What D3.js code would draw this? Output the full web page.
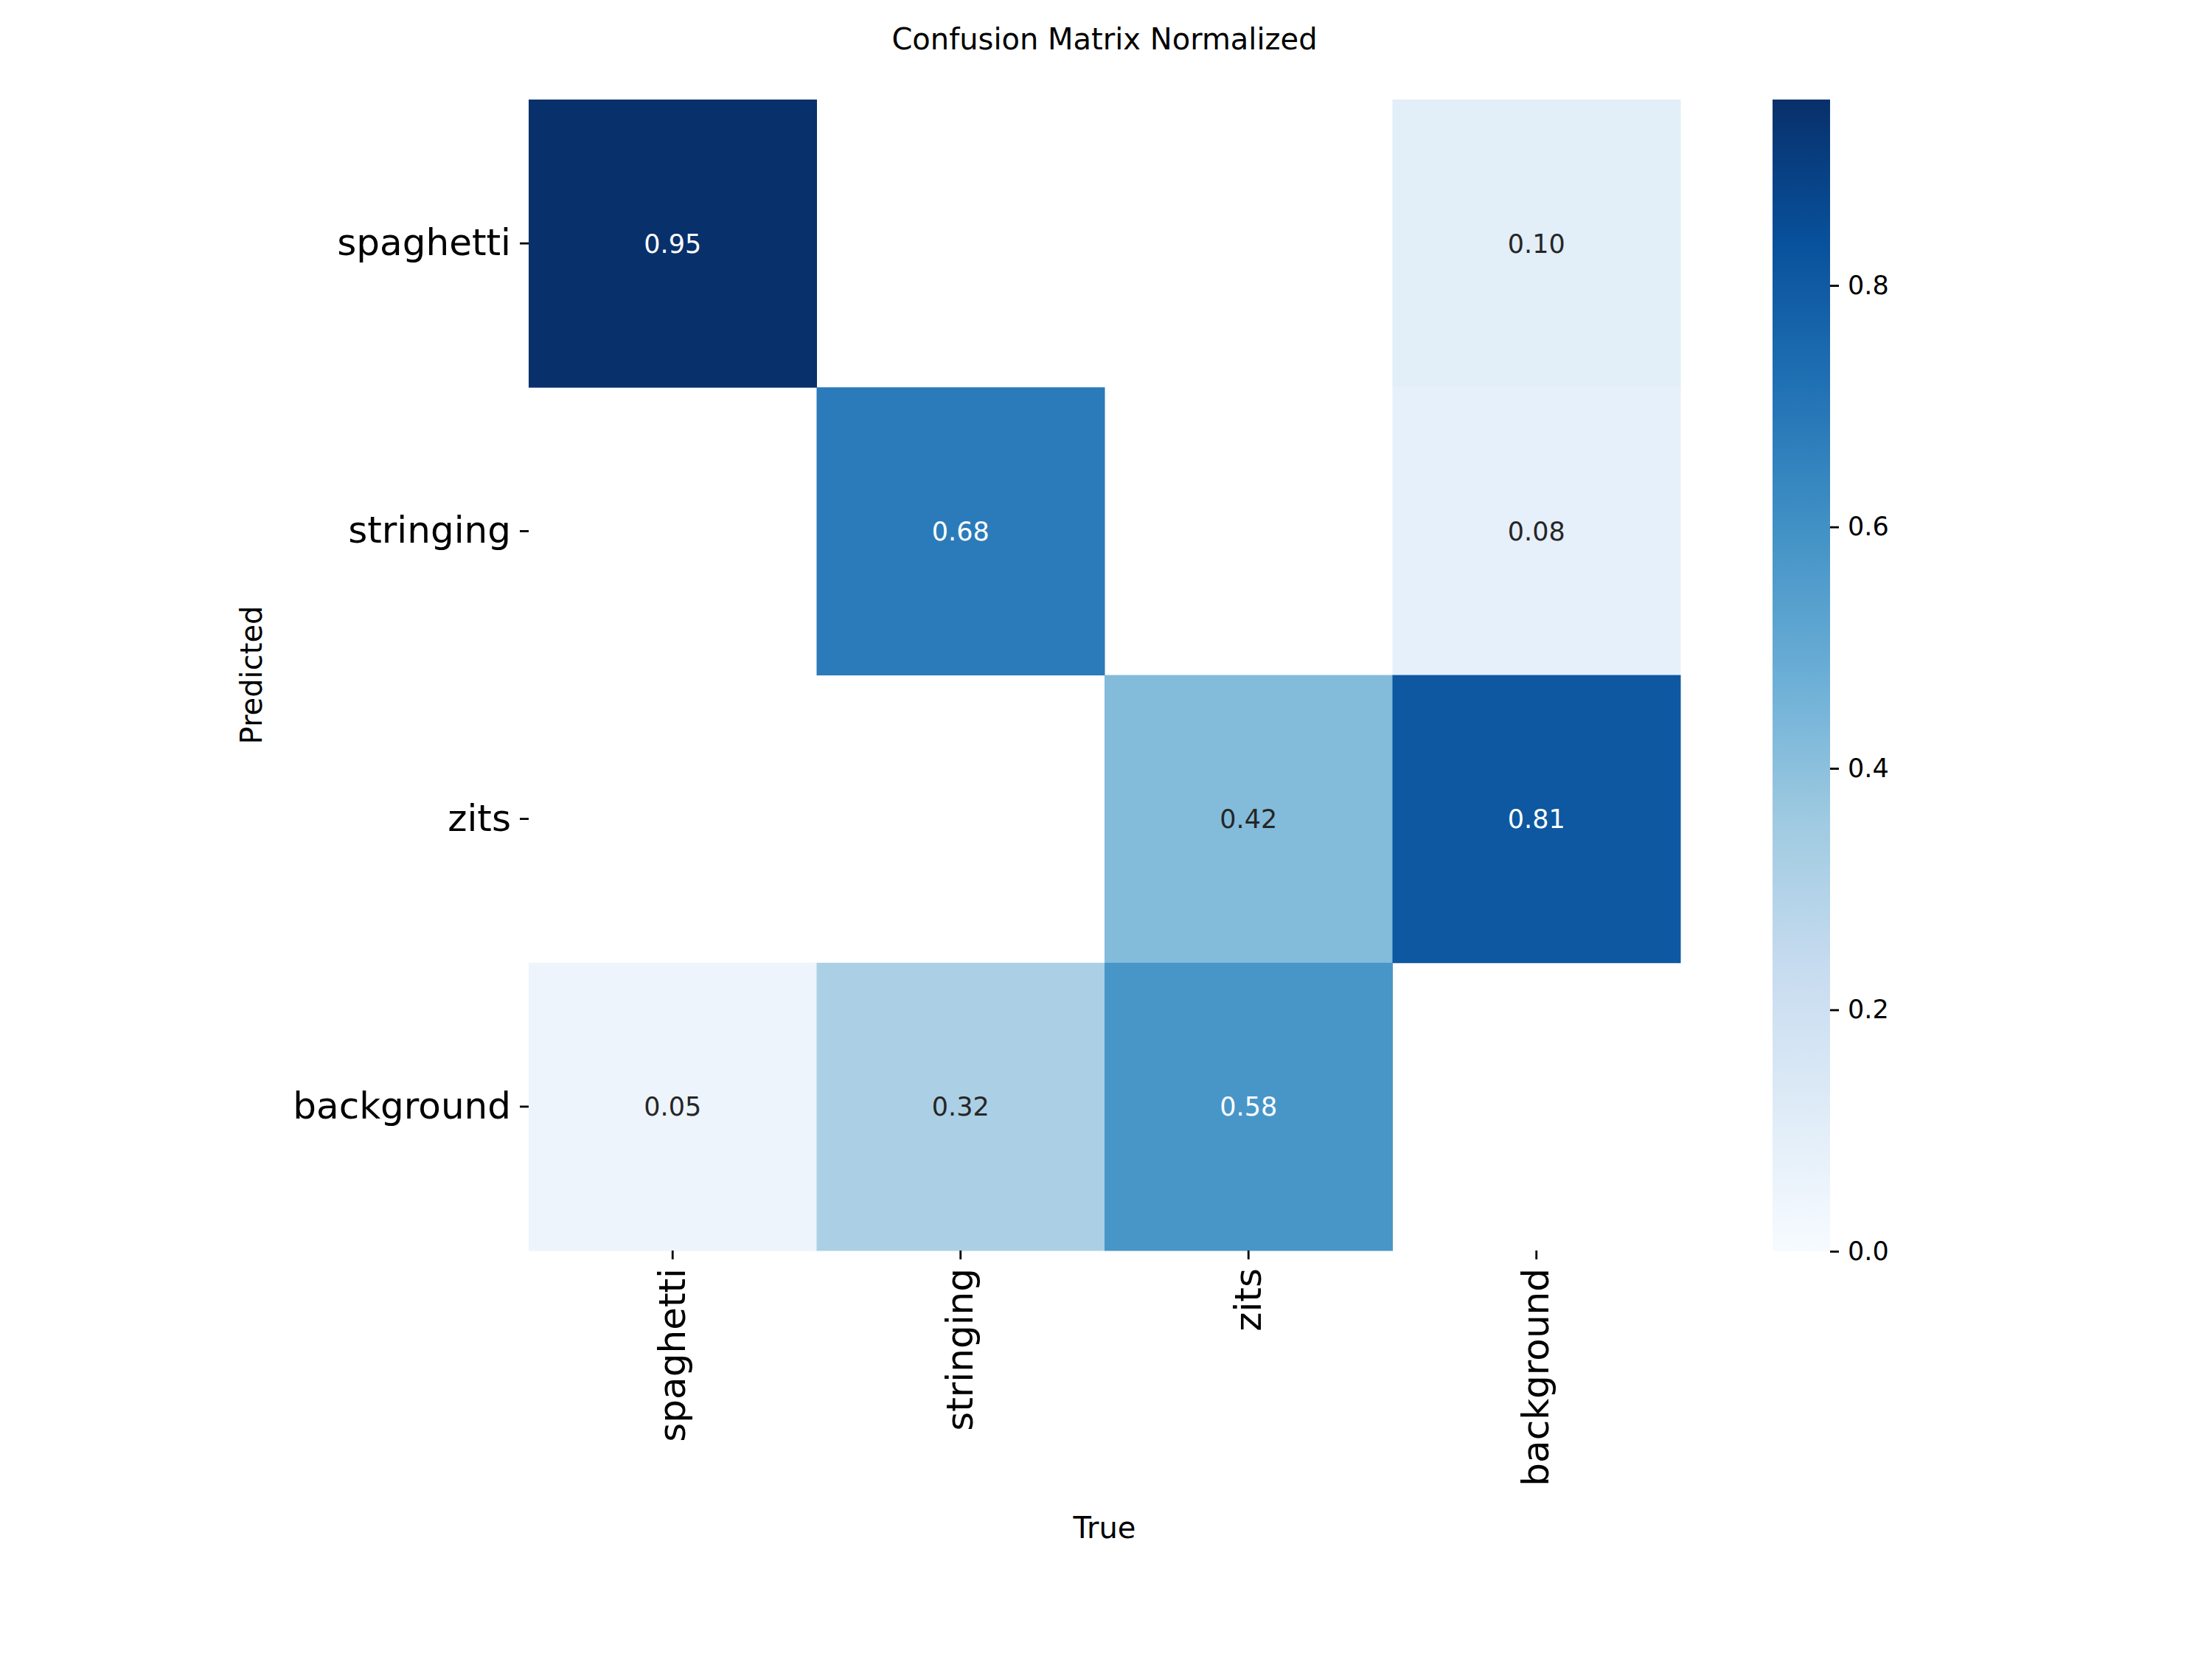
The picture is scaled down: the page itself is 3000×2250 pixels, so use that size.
<!DOCTYPE html>
<html>
<head>
<meta charset="utf-8">
<script src="https://cdn.jsdelivr.net/npm/d3@7"></script>
<style>
  body { margin: 0; background: #fff; }
  svg { display: block; font-family: "DejaVu Sans", sans-serif; }
</style>
</head>
<body>
<svg width="3000" height="2250"></svg>
<script>
// categories, true on x, predicted on y
const trueLabels = ['spaghetti', 'stringing', 'zits', 'background'];
const predLabels = ['spaghetti', 'stringing', 'zits', 'background'];

// normalized values per predicted row (null = empty cell)
const rowSpaghetti = [0.954, null, null, 0.10];
const rowStringing = [null, 0.68, null, 0.08];
const rowZits = [null, null, 0.42, 0.81];
const rowBackground = [0.05, 0.32, 0.58, null];
const matrix = [rowSpaghetti, rowStringing, rowZits, rowBackground];

const cbarTicks = [0.0, 0.2, 0.4, 0.6, 0.8];

// matplotlib "Blues"
const blues = ['#f7fbff', '#deebf7', '#c6dbef', '#9ecae1', '#6baed6', '#4292c6', '#2171b5', '#08519c', '#08306b'];

const svg = d3.select('svg');

let plotLeft = 717, plotRight = 2279, plotTop = 135, plotBottom = 1696;
let vmax = d3.max(matrix.flat());

let x = d3.scaleBand().domain(trueLabels).range([plotLeft, plotRight]);
let y = d3.scaleBand().domain(predLabels).range([plotTop, plotBottom]);
let color = d3.scaleLinear()
  .domain(d3.range(blues.length).map(i => i / (blues.length - 1) * vmax))
  .range(blues)
  .clamp(true);

let cells = [];
matrix.forEach((row, i) => {
  row.forEach((v, j) => {
    if (v !== null) cells.push({ pred: predLabels[i], tru: trueLabels[j], v: v });
  });
});

// cells
svg.append('g').selectAll('rect')
  .data(cells)
  .join('rect')
  .attr('x', d => x(d.tru))
  .attr('y', d => y(d.pred))
  .attr('width', x.bandwidth() + 0.5)
  .attr('height', y.bandwidth() + 0.5)
  .attr('fill', d => color(d.v));

// annotations, white on dark cells like seaborn
svg.append('g').selectAll('text')
  .data(cells)
  .join('text')
  .attr('x', d => x(d.tru) + x.bandwidth() / 2)
  .attr('y', d => y(d.pred) + y.bandwidth() / 2)
  .attr('dy', '0.36em')
  .attr('text-anchor', 'middle')
  .attr('font-size', 35)
  .attr('fill', d => d.v > 0.5 ? '#fff' : '#262626')
  .text(d => d3.format('.2f')(d.v));

function styleAxis(g, size) {
  g.select('.domain').remove();
  g.selectAll('.tick line').attr('stroke', '#000').attr('stroke-width', 2.8);
  g.selectAll('.tick text').attr('font-size', size).attr('fill', '#000')
    .attr('font-family', '"DejaVu Sans", sans-serif');
}

// y axis (predicted)
let gy = svg.append('g')
  .attr('transform', `translate(${plotLeft},0)`)
  .call(d3.axisLeft(y).tickSize(12).tickPadding(12));
styleAxis(gy, 50);

// x axis (true), labels vertical
let gx = svg.append('g')
  .attr('transform', `translate(0,${plotBottom})`)
  .call(d3.axisBottom(x).tickSize(12).tickPadding(12));
styleAxis(gx, 50);
gx.selectAll('.tick text')
  .attr('transform', 'rotate(-90)')
  .attr('text-anchor', 'end')
  .attr('x', -24)
  .attr('y', 0)
  .attr('dy', '0.33em');

// title and axis labels
svg.append('text')
  .attr('x', (plotLeft + plotRight) / 2)
  .attr('y', 67)
  .attr('text-anchor', 'middle')
  .attr('font-size', 40)
  .text('Confusion Matrix Normalized');

svg.append('text')
  .attr('x', (plotLeft + plotRight) / 2)
  .attr('y', 2086)
  .attr('text-anchor', 'middle')
  .attr('font-size', 40)
  .text('True');

svg.append('text')
  .attr('transform', `translate(355,${(plotTop + plotBottom) / 2}) rotate(-90)`)
  .attr('text-anchor', 'middle')
  .attr('font-size', 40)
  .text('Predicted');

// colorbar
let cbLeft = 2404, cbWidth = 78, cbBottom = 1697;
let cy = d3.scaleLinear().domain([0, vmax]).range([cbBottom, plotTop]);

let grad = svg.append('defs').append('linearGradient')
  .attr('id', 'cbar')
  .attr('x1', 0).attr('y1', 1).attr('x2', 0).attr('y2', 0);
grad.selectAll('stop')
  .data(color.domain())
  .join('stop')
  .attr('offset', d => d / vmax)
  .attr('stop-color', d => color(d));

svg.append('rect')
  .attr('x', cbLeft)
  .attr('y', plotTop)
  .attr('width', cbWidth)
  .attr('height', cbBottom - plotTop)
  .attr('fill', 'url(#cbar)');

let gc = svg.append('g')
  .attr('transform', `translate(${cbLeft + cbWidth},0)`)
  .call(d3.axisRight(cy).tickValues(cbarTicks).tickFormat(d3.format('.1f')).tickSize(12).tickPadding(12));
styleAxis(gc, 35);
</script>
</body>
</html>
